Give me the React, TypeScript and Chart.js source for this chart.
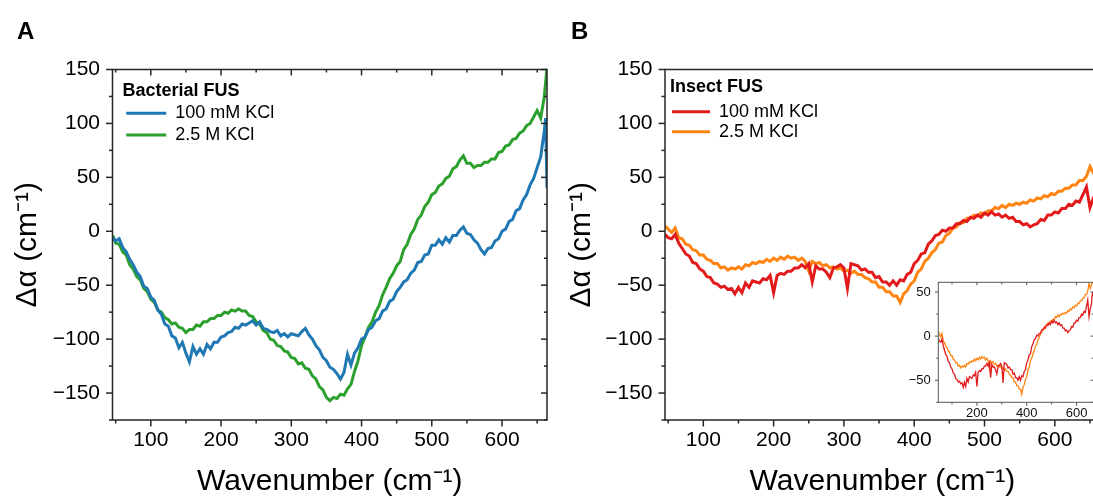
import React, { useEffect, useRef } from 'react';
import { Chart, registerables } from 'chart.js';

Chart.register(...registerables);

const FONT = '"Liberation Sans", Arial, Helvetica, sans-serif';

// ---------------- data ----------------
const WAVENUMBER = [
  46, 50, 55, 60, 65, 70, 75, 80, 85, 90,
  95, 100, 105, 110, 115, 120, 125, 130, 135, 140,
  145, 150, 155, 160, 165, 170, 175, 180, 185, 190,
  195, 200, 205, 210, 215, 220, 225, 230, 235, 240,
  245, 250, 255, 260, 265, 270, 275, 280, 285, 290,
  295, 300, 305, 310, 315, 320, 325, 330, 335, 340,
  345, 350, 355, 360, 365, 370, 375, 380, 385, 390,
  395, 400, 405, 410, 415, 420, 425, 430, 435, 440,
  445, 450, 455, 460, 465, 470, 475, 480, 485, 490,
  495, 500, 505, 510, 515, 520, 525, 530, 535, 540,
  545, 550, 555, 560, 565, 570, 575, 580, 585, 590,
  595, 600, 605, 610, 615, 620, 625, 630, 635, 640,
  645, 650, 655, 660, 662, 664,
];

// Panel A — Bacterial FUS
const BACTERIAL_100MM = [
  -6, -9, -7, -15, -19, -26, -31, -38, -42, -51,
  -53, -61, -64, -73, -77, -86, -88, -97, -99, -108,
  -103, -113, -121, -107, -114, -109, -114, -105, -109, -103,
  -103, -98, -97, -94, -93, -89, -90, -86, -87, -85,
  -83, -87, -84, -90, -91, -93, -94, -92, -97, -95,
  -98, -95, -96, -97, -93, -90, -96, -100, -106, -110,
  -117, -120, -126, -128, -132, -137, -131, -114, -124, -113,
  -108, -100, -98, -91, -89, -83, -81, -74, -72, -65,
  -63, -56, -52, -47, -45, -39, -36, -29, -28, -22,
  -21, -13, -13, -8, -12, -6, -10, -4, -4, 1,
  4, -2, -3, -8, -11, -17, -21, -16, -15, -9,
  -7, 0, 2, 9, 11, 19, 21, 29, 34, 43,
  49, 59, 69, 92, 105, 40,
];
const BACTERIAL_2_5M = [
  -4, -11, -12, -19, -22, -31, -35, -42, -45, -53,
  -56, -63, -66, -73, -75, -80, -82, -86, -85, -89,
  -90, -94, -91, -91, -87, -88, -84, -84, -81, -81,
  -78, -78, -75, -76, -73, -74, -72, -74, -74, -78,
  -79, -84, -86, -92, -94, -100, -101, -106, -107, -111,
  -112, -117, -118, -123, -122, -127, -128, -134, -137, -144,
  -147, -154, -157, -154, -155, -151, -152, -146, -142, -130,
  -120, -106, -98, -89, -84, -75, -69, -59, -52, -44,
  -39, -32, -28, -17, -12, -3, 2, 11, 15, 23,
  27, 34, 36, 42, 44, 49, 51, 58, 60, 66,
  70, 63, 63, 59, 61, 61, 64, 64, 67, 67,
  73, 74, 79, 80, 85, 86, 91, 93, 98, 100,
  106, 112, 105, 124, 138, 152,
];

// Panel B — Insect FUS
const INSECT_100MM = [
  -3, -6, -7, -3, -11, -16, -21, -23, -29, -30,
  -35, -37, -42, -43, -48, -49, -52, -51, -54, -53,
  -58, -52, -57, -48, -52, -46, -47, -48, -44, -45,
  -41, -57, -41, -39, -40, -37, -37, -34, -34, -31,
  -34, -30, -47, -32, -35, -35, -38, -43, -34, -33,
  -31, -34, -53, -30, -31, -32, -36, -35, -38, -38,
  -43, -42, -47, -47, -50, -46, -50, -45, -46, -40,
  -38, -30, -27, -21, -20, -12, -9, -4, -3, 1,
  0, 3, 3, 7, 7, 10, 9, 13, 12, 15,
  13, 17, 15, 18, 15, 16, 13, 15, 12, 13,
  9, 9, 6, 7, 4, 6, 7, 11, 10, 15,
  15, 18, 17, 21, 21, 25, 24, 28, 27, 34,
  41, 22, 31, 37, 46, 50,
];
const INSECT_2_5M = [
  5, 2, -1, 3, -6, -7, -12, -13, -17, -18,
  -22, -22, -26, -27, -30, -30, -34, -33, -36, -34,
  -35, -33, -35, -31, -32, -29, -30, -28, -29, -26,
  -28, -25, -27, -24, -26, -23, -25, -24, -27, -25,
  -28, -37, -28, -30, -29, -32, -31, -34, -33, -35,
  -34, -37, -36, -39, -37, -40, -40, -43, -44, -47,
  -47, -52, -52, -56, -56, -60, -60, -66, -58, -55,
  -49, -46, -38, -35, -28, -25, -20, -17, -11, -10,
  -4, -2, 3, 4, 8, 8, 12, 12, 15, 14,
  17, 16, 19, 19, 22, 21, 24, 22, 25, 24,
  26, 25, 27, 26, 29, 28, 31, 30, 33, 32,
  35, 34, 37, 37, 40, 40, 43, 43, 47, 47,
  51, 60, 54, 58, 60, 63,
];

const SERIES_LABELS = ['100 mM KCl', '2.5 M KCl'];
const LEGEND_TITLES = ['Bacterial FUS', 'Insect FUS'];
const PANEL_LETTERS = ['A', 'B'];
const X_TITLE = 'Wavenumber (cm\u207B\u00B9)';
const Y_TITLE = '\u0394\u03B1 (cm\u207B\u00B9)';

// ---------------- helpers ----------------
const fmt = (v: number) => (v < 0 ? '\u2212' + Math.abs(v) : String(v));

const frameTicks = {
  id: 'frameTicks',
  afterDatasetsDraw(chart: any, _args: any, o: any) {
    if (!o || !o.color) return;
    const { ctx, chartArea } = chart;
    const { left, right, top, bottom } = chartArea;
    const xs = chart.scales.x;
    const ys = chart.scales.y;
    const seg = (x1: number, y1: number, x2: number, y2: number) => {
      ctx.beginPath();
      ctx.moveTo(x1, y1);
      ctx.lineTo(x2, y2);
      ctx.stroke();
    };
    const isMajor = (v: number, step: number) => Math.abs(v / step - Math.round(v / step)) < 1e-6;
    ctx.save();
    ctx.strokeStyle = o.color;
    ctx.lineWidth = o.width;
    for (let v = Math.ceil(xs.min / o.xMinor) * o.xMinor; v <= xs.max + 1e-9; v += o.xMinor) {
      const px = xs.getPixelForValue(v);
      const maj = isMajor(v, o.xMajor);
      seg(px, bottom, px, bottom + (maj ? o.outMajor : o.outMinor));
      if (o.topTicks) seg(px, top, px, top + (maj ? o.inMajor : o.inMinor));
    }
    for (let v = Math.ceil(ys.min / o.yMinor) * o.yMinor; v <= ys.max + 1e-9; v += o.yMinor) {
      const py = ys.getPixelForValue(v);
      const maj = isMajor(v, o.yMajor);
      seg(left - (maj ? o.outMajor : o.outMinor), py, left, py);
      if (o.rightTicks) seg(right - (maj ? o.inMajor : o.inMinor), py, right, py);
    }
    ctx.strokeRect(left, top, right - left, bottom - top);
    ctx.restore();
  },
};

const whiteArea = {
  id: 'whiteArea',
  beforeDatasetsDraw(chart: any, _a: any, o: any) {
    if (!o || !o.fill) return;
    const { ctx, chartArea } = chart;
    ctx.save();
    ctx.fillStyle = o.fill;
    ctx.fillRect(chartArea.left, chartArea.top, chartArea.right - chartArea.left, chartArea.bottom - chartArea.top);
    ctx.restore();
  },
};

const legendOffset = {
  id: 'legendOffset',
  afterLayout(chart: any, _a: any, o: any) {
    const lg = chart.legend;
    if (!lg || !o || o.dx === undefined) return;
    lg.left = chart.chartArea.left + o.dx;
    lg.top = chart.chartArea.top + o.dy;
  },
};

type MainParams = {
  series: number[][];
  colors: string[];
  legendTitle: string;
  yAxisWidth: number;
  yTitlePad: number;
  padRight: number;
  mirrorTicks: boolean;
  legend: { dx: number; dy: number; pad: number; titlePadBottom: number; boxWidth: number };
};

function mainConfig(p: MainParams): any {
  return {
    type: 'line',
    data: {
      datasets: p.series.map((s, i) => ({
        label: SERIES_LABELS[i],
        data: WAVENUMBER.map((x, j) => ({ x, y: s[j] })),
        borderColor: p.colors[i],
        backgroundColor: p.colors[i],
        borderWidth: 3,
        pointRadius: 0,
        tension: 0,
        fill: false,
      })),
    },
    plugins: [whiteArea, frameTicks, legendOffset],
    options: {
      responsive: false,
      animation: false,
      devicePixelRatio: 1,
      events: [],
      layout: { padding: { top: 69.5, right: p.padRight, bottom: 0, left: 0 } },
      plugins: {
        tooltip: { enabled: false },
        title: { display: false },
        legend: {
          display: true,
          position: 'chartArea',
          align: 'start',
          title: {
            display: true,
            text: p.legendTitle,
            position: 'start',
            color: '#000',
            font: { family: FONT, size: 18, weight: 'bold', lineHeight: 1 },
            padding: { top: 0, bottom: p.legend.titlePadBottom },
          },
          labels: {
            boxWidth: p.legend.boxWidth,
            boxHeight: 3,
            padding: p.legend.pad,
            color: '#000',
            font: { family: FONT, size: 18 },
            generateLabels: (chart: any) =>
              chart.data.datasets.map((ds: any, i: number) => ({
                text: ds.label,
                fillStyle: ds.borderColor,
                strokeStyle: ds.borderColor,
                lineWidth: 0,
                hidden: false,
                datasetIndex: i,
                fontColor: '#000',
              })),
          },
        },
        legendOffset: { dx: p.legend.dx, dy: p.legend.dy },
        frameTicks: {
          color: '#262626',
          width: 1.5,
          xMinor: 50,
          xMajor: 100,
          yMinor: 25,
          yMajor: 50,
          outMajor: 6.5,
          outMinor: 3.5,
          inMajor: 6,
          inMinor: 3,
          topTicks: p.mirrorTicks,
          rightTicks: p.mirrorTicks,
        },
      },
      scales: {
        x: {
          type: 'linear',
          min: 45.5,
          max: 664,
          border: { display: false },
          grid: { display: true, drawOnChartArea: false, drawTicks: true, tickLength: 6, color: 'rgba(0,0,0,0)' },
          ticks: {
            stepSize: 50,
            maxTicksLimit: 100,
            includeBounds: false,
            autoSkip: false,
            maxRotation: 0,
            minRotation: 0,
            padding: 2,
            color: '#000',
            font: { family: FONT, size: 21 },
            callback: (v: any) => (Number(v) % 100 === 0 ? String(v) : ''),
          },
          title: {
            display: true,
            text: X_TITLE,
            color: '#000',
            font: { family: FONT, size: 30, lineHeight: 1 },
            padding: { top: 0, bottom: 2.5 },
          },
          afterFit: (s: any) => {
            s.height = 79;
          },
        },
        y: {
          type: 'linear',
          min: -175,
          max: 150,
          border: { display: false },
          grid: { display: true, drawOnChartArea: false, drawTicks: true, tickLength: 6, color: 'rgba(0,0,0,0)' },
          ticks: {
            stepSize: 25,
            maxTicksLimit: 100,
            includeBounds: false,
            autoSkip: false,
            padding: 6.5,
            color: '#000',
            font: { family: FONT, size: 21 },
            callback: (v: any) => (Number(v) % 50 === 0 ? fmt(Number(v)) : ''),
          },
          title: {
            display: true,
            text: Y_TITLE,
            color: '#000',
            font: { family: FONT, size: 30, lineHeight: 1 },
            padding: { top: p.yTitlePad, bottom: 0 },
          },
          afterFit: (s: any) => {
            s.width = p.yAxisWidth;
          },
        },
      },
    },
  };
}

function insetConfig(series: number[][], colors: string[]): any {
  return {
    type: 'line',
    data: {
      datasets: series.map((s, i) => ({
        label: SERIES_LABELS[i],
        data: WAVENUMBER.map((x, j) => ({ x, y: s[j] })),
        borderColor: colors[i],
        backgroundColor: colors[i],
        borderWidth: 1.3,
        pointRadius: 0,
        tension: 0,
        fill: false,
      })),
    },
    plugins: [whiteArea, frameTicks],
    options: {
      responsive: false,
      animation: false,
      devicePixelRatio: 1,
      events: [],
      layout: { padding: { top: 7.3, right: 6.5, bottom: 0, left: 0 } },
      plugins: {
        tooltip: { enabled: false },
        legend: { display: false },
        title: { display: false },
        whiteArea: { fill: '#ffffff' },
        frameTicks: {
          color: '#555',
          width: 1,
          xMinor: 100,
          xMajor: 200,
          yMinor: 25,
          yMajor: 50,
          outMajor: 3.5,
          outMinor: 2,
          inMajor: 3,
          inMinor: 2,
          topTicks: true,
          rightTicks: true,
        },
      },
      scales: {
        x: {
          type: 'linear',
          min: 45,
          max: 668,
          border: { display: false },
          grid: { display: true, drawOnChartArea: false, drawTicks: true, tickLength: 3, color: 'rgba(0,0,0,0)' },
          ticks: {
            stepSize: 100,
            maxTicksLimit: 100,
            includeBounds: false,
            autoSkip: false,
            maxRotation: 0,
            minRotation: 0,
            padding: 0.5,
            color: '#111',
            font: { family: FONT, size: 13 },
            callback: (v: any) => (Number(v) % 200 === 0 ? String(v) : ''),
          },
          afterFit: (s: any) => {
            s.height = 27.7;
          },
        },
        y: {
          type: 'linear',
          min: -75,
          max: 61,
          border: { display: false },
          grid: { display: true, drawOnChartArea: false, drawTicks: true, tickLength: 3, color: 'rgba(0,0,0,0)' },
          ticks: {
            stepSize: 25,
            maxTicksLimit: 100,
            includeBounds: false,
            autoSkip: false,
            padding: 4.5,
            color: '#111',
            font: { family: FONT, size: 13 },
            callback: (v: any) => (Number(v) % 50 === 0 ? fmt(Number(v)) : ''),
          },
          afterFit: (s: any) => {
            s.width = 38.3;
          },
        },
      },
    },
  };
}

const BLUE = '#1f77b4';
const GREEN = '#2ca02c';
const RED = '#e31a1c';
const ORANGE = '#ff8412';

export default function App() {
  const aRef = useRef<HTMLCanvasElement>(null);
  const bRef = useRef<HTMLCanvasElement>(null);
  const iRef = useRef<HTMLCanvasElement>(null);

  useEffect(() => {
    const charts: Chart[] = [];
    if (aRef.current) {
      charts.push(
        new Chart(
          aRef.current,
          mainConfig({
            series: [BACTERIAL_100MM, BACTERIAL_2_5M],
            colors: [BLUE, GREEN],
            legendTitle: LEGEND_TITLES[0],
            yAxisWidth: 112.5,
            yTitlePad: 13,
            padRight: 13,
            mirrorTicks: true,
            legend: { dx: 10, dy: 12.2, pad: 3.7, titlePadBottom: 0.9, boxWidth: 40 },
          })
        )
      );
    }
    if (bRef.current) {
      charts.push(
        new Chart(
          bRef.current,
          mainConfig({
            series: [INSECT_100MM, INSECT_2_5M],
            colors: [RED, ORANGE],
            legendTitle: LEGEND_TITLES[1],
            yAxisWidth: 105,
            yTitlePad: 7.2,
            padRight: 10.2,
            mirrorTicks: false,
            legend: { dx: 5, dy: 8.8, pad: 2, titlePadBottom: 4.4, boxWidth: 38 },
          })
        )
      );
    }
    if (iRef.current) {
      charts.push(new Chart(iRef.current, insetConfig([INSECT_100MM, INSECT_2_5M], [RED, ORANGE])));
    }
    return () => charts.forEach((c) => c.destroy());
  }, []);

  const letterStyle = (left: number): React.CSSProperties => ({
    position: 'absolute',
    left,
    top: 19,
    fontFamily: FONT,
    fontWeight: 'bold',
    fontSize: 24,
    lineHeight: '24px',
    color: '#000',
  });

  return (
    <div
      style={{
        position: 'fixed',
        left: 0,
        top: 0,
        width: 1093,
        height: 499,
        overflow: 'hidden',
        background: '#fff',
      }}
    >
      <canvas ref={aRef} width={560} height={499} style={{ position: 'absolute', left: 0, top: 0, width: 560, height: 499 }} />
      <canvas ref={bRef} width={550} height={499} style={{ position: 'absolute', left: 560, top: 0, width: 550, height: 499 }} />
      <canvas ref={iRef} width={200} height={160} style={{ position: 'absolute', left: 900, top: 270, width: 200, height: 160 }} />
      <div style={letterStyle(17)}>{PANEL_LETTERS[0]}</div>
      <div style={letterStyle(571)}>{PANEL_LETTERS[1]}</div>
    </div>
  );
}
